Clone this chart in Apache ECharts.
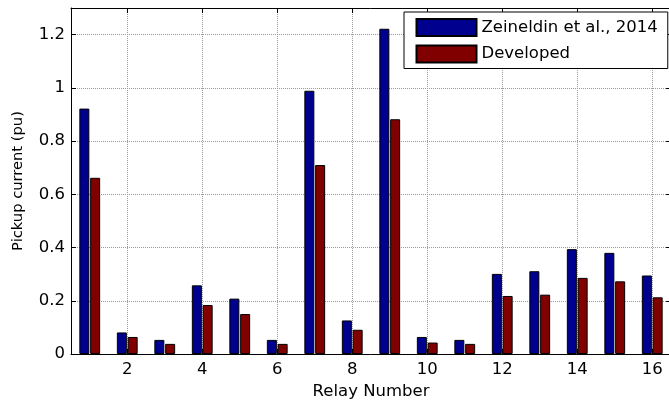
<!DOCTYPE html>
<html>
<head>
<meta charset="utf-8">
<script src="https://cdn.jsdelivr.net/npm/echarts@6/dist/echarts.min.js"></script>
<style>
  html, body { margin: 0; padding: 0; background: #fff; }
  #chart { width: 669px; height: 401px; }
</style>
</head>
<body>
<div id="chart"></div>
<script>
// Relay numbers 1..16
const relays = ['1','2','3','4','5','6','7','8','9','10','11','12','13','14','15','16'];
// Pickup current (pu) per relay
const zeineldin2014 = [0.922, 0.081, 0.053, 0.258, 0.208, 0.053, 0.989, 0.126, 1.222, 0.064, 0.053, 0.301, 0.311, 0.394, 0.380, 0.295];
const developed     = [0.662, 0.064, 0.038, 0.184, 0.150, 0.038, 0.710, 0.091, 0.882, 0.043, 0.038, 0.218, 0.223, 0.286, 0.273, 0.213];
// Labelled relay ticks on the x axis
const xTicks = [2, 4, 6, 8, 10, 12, 14, 16];
const seriesNames = ['Zeineldin et al., 2014', 'Developed'];

const FONT = 'DejaVu Sans';
const gridLine = { show: true, lineStyle: { color: '#9a9a9a', width: 1, type: [1, 1] } };
const blackLine = { show: true, onZero: false, lineStyle: { color: '#000', width: 1 } };

const chart = echarts.init(document.getElementById('chart'), null, { renderer: 'canvas' });
chart.setOption({
  animation: false,
  backgroundColor: '#fff',
  textStyle: { fontFamily: FONT },
  grid: { left: 71, top: 8, width: 600, height: 346, outerBoundsMode: 'none', containLabel: false },
  legend: {
    orient: 'vertical',
    left: 404,
    top: 12,
    padding: [6, 10, 5, 11.5],
    itemWidth: 60,
    itemHeight: 17,
    itemGap: 7.5,
    icon: 'rect',
    backgroundColor: '#fff',
    borderColor: '#000',
    borderWidth: 1,
    textStyle: { fontFamily: FONT, fontSize: 16.5, color: '#000', lineHeight: 17 },
    data: seriesNames
  },
  xAxis: [
    {
      type: 'category',
      data: relays,
      boundaryGap: true,
      show: false
    },
    {
      type: 'value',
      min: 0.5,
      max: 16.5,
      position: 'bottom',
      axisLine: blackLine,
      axisTick: { show: true, inside: true, length: 5, customValues: xTicks, lineStyle: { color: '#000' } },
      axisLabel: { customValues: xTicks, color: '#000', fontSize: 16.5, fontFamily: FONT, margin: 7 },
      splitLine: gridLine,
      name: 'Relay Number',
      nameLocation: 'middle',
      nameGap: 26,
      nameTextStyle: { color: '#000', fontSize: 16.5, fontFamily: FONT }
    },
    {
      type: 'value',
      min: 0.5,
      max: 16.5,
      position: 'top',
      axisLine: blackLine,
      axisTick: { show: true, inside: true, length: 5, customValues: xTicks, lineStyle: { color: '#000' } },
      axisLabel: { show: false },
      splitLine: { show: false }
    }
  ],
  yAxis: [
    {
      type: 'value',
      min: 0,
      max: 1.3,
      interval: 0.2,
      position: 'left',
      axisLine: blackLine,
      axisTick: { show: true, inside: true, length: 5, lineStyle: { color: '#000' } },
      axisLabel: { color: '#000', fontSize: 16.5, fontFamily: FONT, margin: 6, showMaxLabel: false },
      splitLine: gridLine,
      name: 'Pickup current (pu)',
      nameLocation: 'middle',
      nameRotate: 90,
      nameGap: 45,
      nameTextStyle: { color: '#000', fontSize: 14.7, fontFamily: FONT }
    },
    {
      type: 'value',
      min: 0,
      max: 1.3,
      interval: 0.2,
      position: 'right',
      axisLine: blackLine,
      axisTick: { show: true, inside: true, length: 5, lineStyle: { color: '#000' } },
      axisLabel: { show: false },
      splitLine: { show: false }
    }
  ],
  series: [
    {
      name: seriesNames[0],
      type: 'bar',
      xAxisIndex: 0,
      yAxisIndex: 0,
      data: zeineldin2014,
      barWidth: 10,
      barGap: '8%',
      itemStyle: { color: '#00008F', borderColor: '#000', borderWidth: 1 }
    },
    {
      name: seriesNames[1],
      type: 'bar',
      xAxisIndex: 0,
      yAxisIndex: 0,
      data: developed,
      barWidth: 10,
      barGap: '8%',
      itemStyle: { color: '#800000', borderColor: '#000', borderWidth: 1 }
    }
  ]
});
</script>
</body>
</html>
